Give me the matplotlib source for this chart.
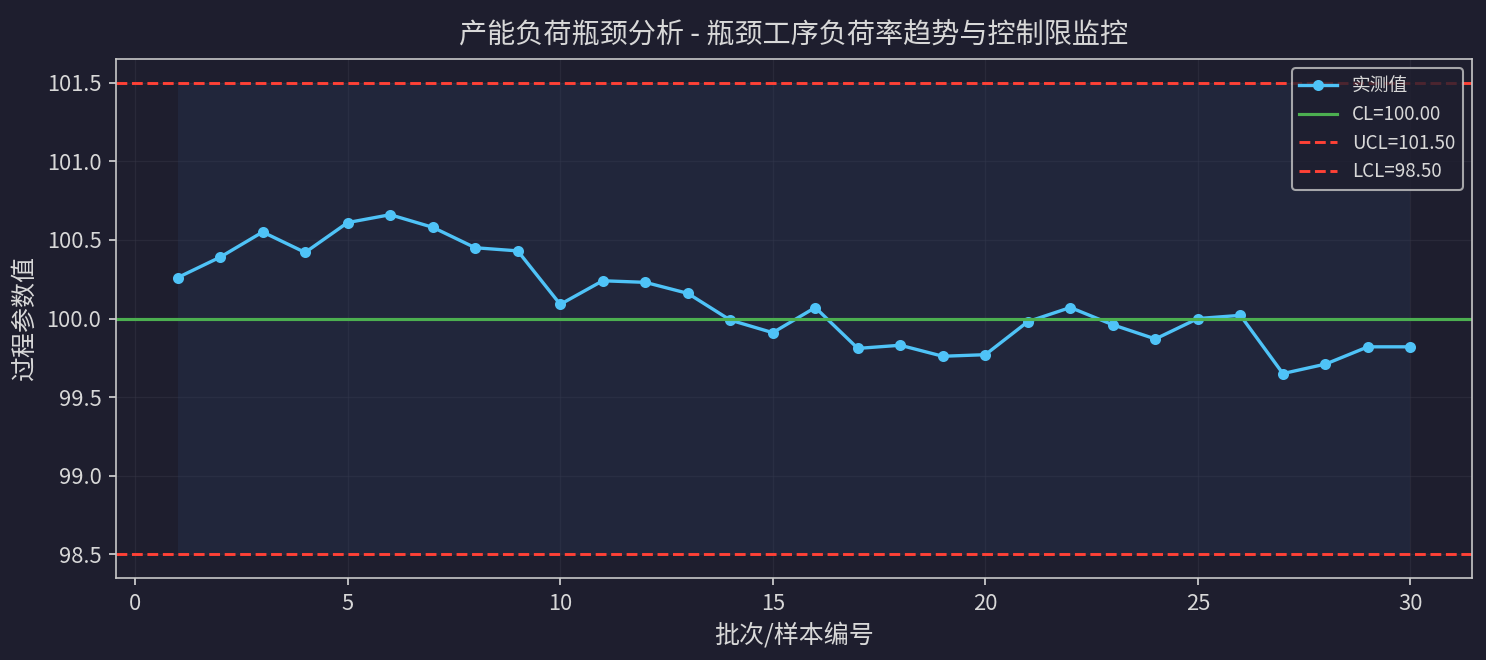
import numpy as np
import matplotlib
matplotlib.use('Agg')
import matplotlib.pyplot as plt

plt.rcParams['font.family'] = ['Noto Sans CJK SC', 'DejaVu Sans']
plt.rcParams['axes.unicode_minus'] = False

# 数据
batch = np.arange(1, 31)
values = [100.26, 100.39, 100.55, 100.42, 100.61, 100.66, 100.58, 100.45, 100.43, 100.09,
          100.24, 100.23, 100.16, 99.99, 99.91, 100.07, 99.81, 99.83, 99.76, 99.77,
          99.98, 100.07, 99.96, 99.87, 100.00, 100.02, 99.65, 99.71, 99.82, 99.82]
CL = 100.00
UCL = 101.50
LCL = 98.50

bg = '#1e1e2e'
fg = '#d8d8d8'

fig, ax = plt.subplots(figsize=(9.913, 4.4), dpi=150)
fig.patch.set_facecolor(bg)
ax.set_facecolor(bg)

ax.fill_between(batch, LCL, UCL, color='#2a3b5c', alpha=0.3, linewidth=0)
ax.plot(batch, values, '-o', color='#4fc3f7', lw=1.6, ms=4.3, label='实测值')
ax.axhline(CL, color='#4caf50', lw=1.5, label='CL=%.2f' % CL)
ax.axhline(UCL, color='#ff4136', lw=1.4, ls='--', label='UCL=%.2f' % UCL)
ax.axhline(LCL, color='#ff4136', lw=1.4, ls='--', label='LCL=%.2f' % LCL)

ax.grid(True, color='#3a3a4a', alpha=0.4, lw=0.6)
ax.set_axisbelow(True)

ax.set_title('产能负荷瓶颈分析 - 瓶颈工序负荷率趋势与控制限监控', color=fg, fontsize=13.5, pad=8)
ax.set_xlabel('批次/样本编号', color=fg, fontsize=12)
ax.set_ylabel('过程参数值', color=fg, fontsize=12)
ax.tick_params(colors=fg, labelsize=10.5)
for s in ax.spines.values():
    s.set_color('#c8c8c8')

leg = ax.legend(loc='upper right', fontsize=9, facecolor=bg, edgecolor='#c8c8c8',
                labelcolor=fg, labelspacing=0.4)

plt.subplots_adjust(left=0.078, right=0.990, top=0.9106, bottom=0.1242)
fig.savefig('out.png', facecolor=bg)
